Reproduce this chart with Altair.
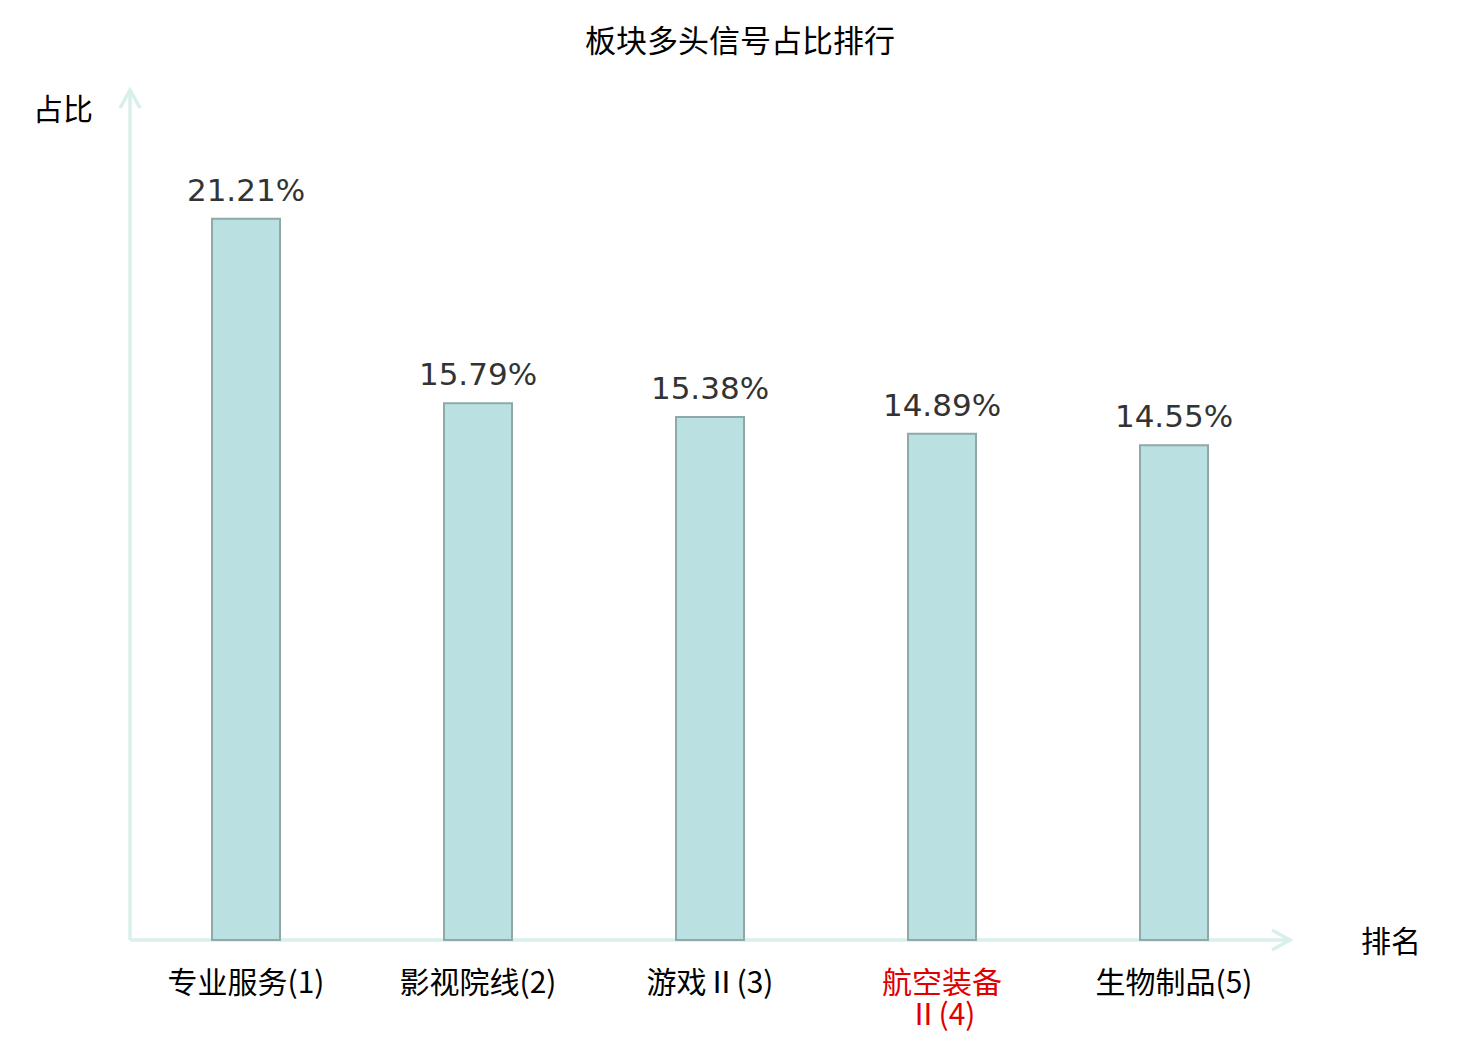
import altair as alt
import pandas as pd

categories = ["专业服务(1)", "影视院线(2)", "游戏Ⅱ(3)", "航空装备Ⅱ(4)", "生物制品(5)"]
display_labels = ["专业服务(1)", "影视院线(2)", "游戏Ⅱ(3)", "航空装备\nⅡ(4)", "生物制品(5)"]
values = [21.21, 15.79, 15.38, 14.89, 14.55]
highlight = [False, False, False, True, False]
title_text = "板块多头信号占比排行"
y_title = "占比"
x_title = "排名"

df = pd.DataFrame({
    "cat": categories,
    "disp": display_labels,
    "val": values,
    "pct": [f"{v:.2f}%" for v in values],
    "hl": highlight,
})

W, H = 1160, 850
AXIS_COLOR = "#d9efeb"
CJK = "Noto Sans CJK SC"

xenc = alt.X("cat:N", sort=categories, axis=None,
             scale=alt.Scale(paddingInner=0, paddingOuter=0))
yenc = alt.Y("val:Q", axis=None, scale=alt.Scale(domain=[0, 25], nice=False, zero=True))

base = alt.Chart(df)

bars = base.mark_bar(size=68, color="#bae0e2", stroke="#8fa9a9", strokeWidth=2).encode(
    x=xenc, y=yenc
)

vals = base.mark_text(fontSize=31, font="DejaVu Sans", color="#333333",
                      baseline="alphabetic", dy=-18).encode(
    x=xenc, y=yenc, text="pct:N"
)

cat_labels = base.mark_text(fontSize=30, font=CJK, baseline="middle",
                            lineBreak="\n", lineHeight=32).encode(
    x=xenc,
    y=alt.value(H + 44),
    text="disp:N",
    color=alt.condition("datum.hl", alt.value("#e00000"), alt.value("#000000")),
)

# axis lines
one = pd.DataFrame({"a": [0]})
yaxis = alt.Chart(one).mark_rule(color=AXIS_COLOR, strokeWidth=3.5).encode(
    x=alt.value(0), y=alt.value(0), y2=alt.value(H)
)
xaxis = alt.Chart(one).mark_rule(color=AXIS_COLOR, strokeWidth=3.5).encode(
    x=alt.value(0), x2=alt.value(W), y=alt.value(H)
)
up_arrow = alt.Chart(one).mark_point(
    shape="M -1 1.8 L 0 0 L 1 1.8", size=400, filled=False,
    stroke=AXIS_COLOR, strokeWidth=3.5, opacity=1
).encode(x=alt.value(0), y=alt.value(0))
right_arrow = alt.Chart(one).mark_point(
    shape="M -1.8 -1 L 0 0 L -1.8 1", size=400, filled=False,
    stroke=AXIS_COLOR, strokeWidth=3.5, opacity=1
).encode(x=alt.value(W), y=alt.value(H))

title_mark = alt.Chart(pd.DataFrame({"t": [title_text]})).mark_text(
    fontSize=31, font=CJK, color="#000000", baseline="middle", align="center"
).encode(x=alt.value(610), y=alt.value(-47), text="t:N")
ytitle_mark = alt.Chart(pd.DataFrame({"t": [y_title]})).mark_text(
    fontSize=30, font=CJK, color="#000000", baseline="middle", align="center"
).encode(x=alt.value(-67), y=alt.value(21), text="t:N")
xtitle_mark = alt.Chart(pd.DataFrame({"t": [x_title]})).mark_text(
    fontSize=30, font=CJK, color="#000000", baseline="middle", align="center"
).encode(x=alt.value(1261), y=alt.value(853), text="t:N")

chart = alt.layer(
    yaxis, xaxis, up_arrow, right_arrow, bars, vals, cat_labels,
    title_mark, ytitle_mark, xtitle_mark
).properties(
    width=W, height=H,
    autosize=alt.AutoSizeParams(type="none"),
    padding={"left": 122, "top": 82, "right": 182, "bottom": 100},
    background="white",
).configure_view(stroke=None)

chart.save("out.html", embed_options={"renderer": "svg", "actions": False})
